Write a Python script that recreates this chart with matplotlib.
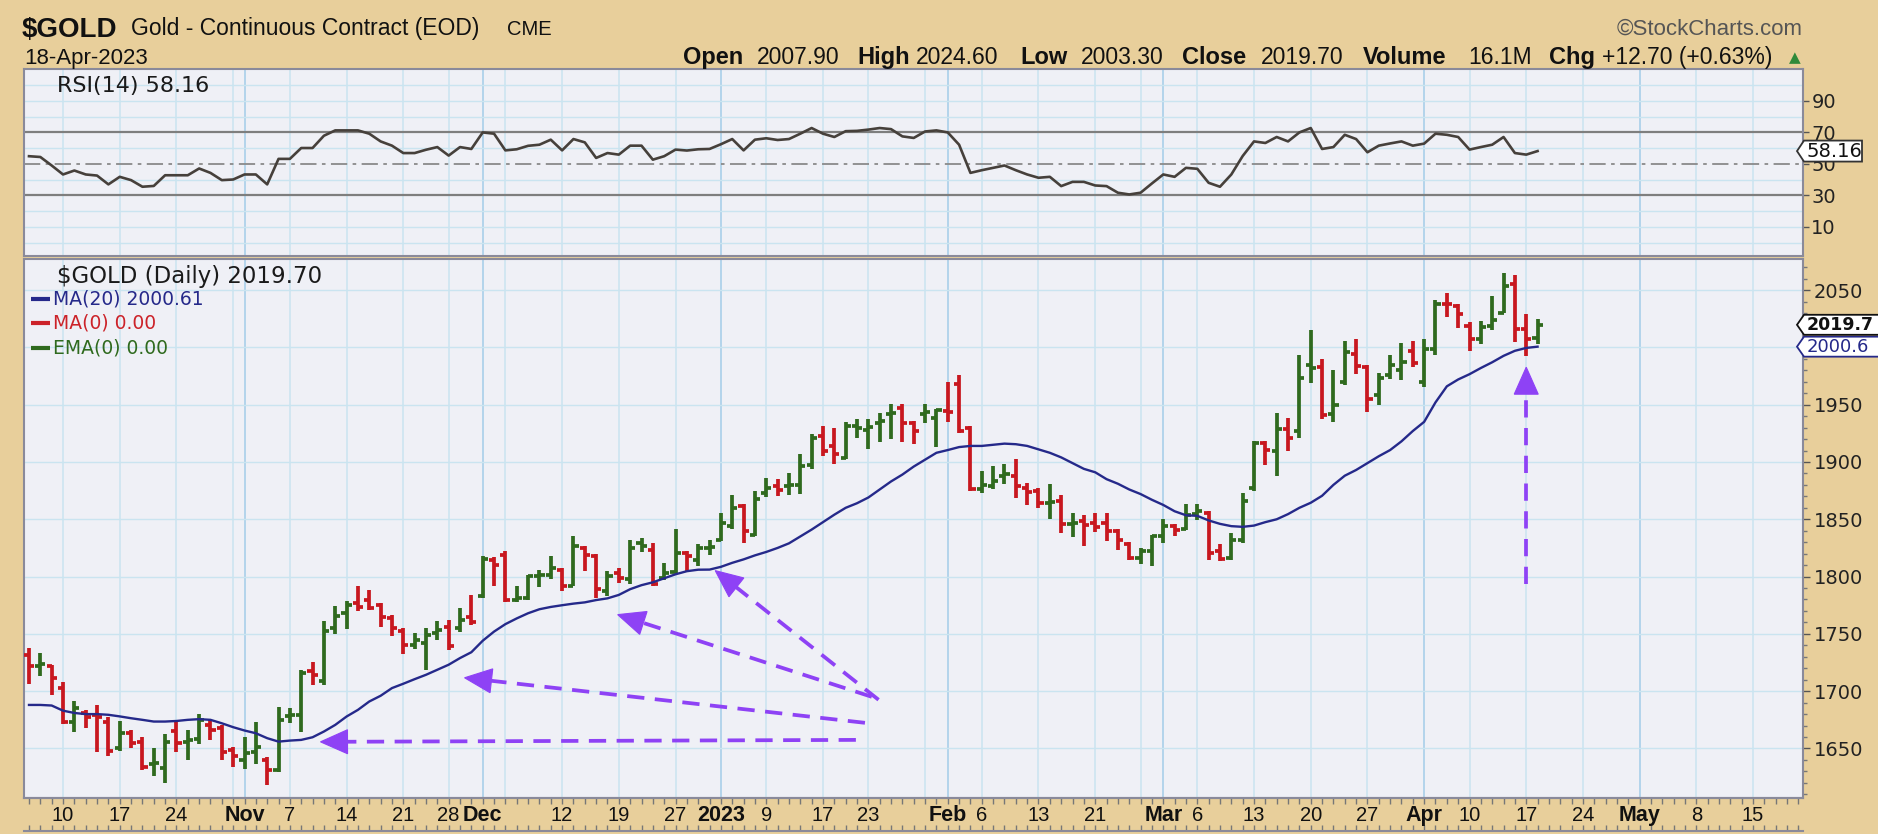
import numpy as np
import pandas as pd
import matplotlib
matplotlib.use("Agg")
import matplotlib.pyplot as plt
from matplotlib.patches import Polygon
from matplotlib.transforms import IdentityTransform
from matplotlib.ticker import MultipleLocator, FixedLocator
from matplotlib import font_manager as fm

# ------------------------------------------------------------------ data
symbol = "$GOLD"
description = "Gold - Continuous Contract (EOD)"
exchange = "CME"
last_date = "18-Apr-2023"
quote_labels = ["Open", "High", "Low", "Close", "Volume", "Chg"]
quote_values = ["2007.90", "2024.60", "2003.30", "2019.70", "16.1M", "+12.70 (+0.63%)"]

start_date = "2022-10-05"
end_axis_date = "2023-05-31"
holidays = ["2022-11-24", "2022-12-26", "2023-01-02", "2023-01-16",
            "2023-02-20", "2023-04-07", "2023-05-29"]

opens = [1731.8, 1722.2, 1721.6, 1702.7, 1673.5, 1680.8, 1679.4, 1673.5, 1650.2, 1663.3,
         1656.0, 1636.5, 1633.3, 1665.0, 1656.0, 1658.1, 1670.6, 1667.7, 1648.8, 1640.0,
         1647.3, 1640.0, 1631.3, 1678.5, 1679.4, 1717.2, 1708.5, 1755.1, 1768.2, 1777.0,
         1779.9, 1775.0, 1763.9, 1752.2, 1740.5, 1742.0, 1750.8, 1756.0, 1755.1, 1765.0,
         1782.8, 1814.9, 1819.2, 1779.9, 1781.3, 1800.3, 1801.7, 1806.1, 1792.1, 1825.1,
         1817.8, 1787.2, 1803.2, 1798.0, 1829.4, 1823.6, 1799.0, 1803.8, 1820.7, 1814.9,
         1825.1, 1832.3, 1844.0, 1861.5, 1836.7, 1873.1, 1878.9, 1878.9, 1879.5, 1897.0,
         1922.7, 1913.9, 1903.7, 1931.4, 1928.0, 1934.3, 1941.6, 1947.4, 1934.3, 1941.6,
         1938.7, 1944.5, 1967.8, 1929.9, 1876.1, 1879.0, 1887.7, 1887.7, 1877.5, 1874.6,
         1863.8, 1865.9, 1845.5, 1848.4, 1846.9, 1846.9, 1839.6, 1828.0, 1816.3, 1822.1,
         1835.3, 1844.0, 1841.1, 1854.2, 1855.7, 1822.1, 1816.3, 1832.3, 1877.5, 1916.9,
         1909.6, 1928.5, 1927.0, 1985.0, 1983.0, 1942.0, 1970.0, 1994.1, 1983.3, 1958.2,
         1976.0, 1980.0, 1997.0, 1970.0, 1999.0, 2038.0, 2036.0, 2019.0, 2007.0, 2019.0,
         2030.0, 2055.0, 2016.0, 2007.9]
highs = [1737.6, 1733.3, 1723.1, 1707.6, 1691.6, 1683.7, 1688.1, 1677.9, 1674.1, 1666.2,
         1660.4, 1650.2, 1662.5, 1675.0, 1665.7, 1680.2, 1675.0, 1670.6, 1651.7, 1660.4,
         1672.7, 1642.4, 1686.1, 1685.2, 1718.7, 1725.1, 1761.0, 1774.1, 1778.4, 1792.1,
         1788.6, 1777.0, 1766.8, 1755.1, 1750.8, 1755.1, 1761.0, 1762.4, 1772.6, 1784.3,
         1818.3, 1817.2, 1822.1, 1791.5, 1801.7, 1806.1, 1817.8, 1807.6, 1835.8, 1826.5,
         1820.1, 1804.7, 1807.6, 1831.5, 1833.8, 1829.4, 1811.9, 1841.1, 1822.1, 1828.0,
         1831.5, 1855.6, 1870.8, 1862.9, 1874.6, 1886.2, 1884.8, 1890.0, 1906.6, 1924.1,
         1931.4, 1929.9, 1934.9, 1937.8, 1937.2, 1943.1, 1950.3, 1950.3, 1935.8, 1950.4,
         1946.0, 1969.9, 1976.0, 1931.4, 1892.1, 1896.5, 1897.9, 1902.3, 1881.9, 1877.5,
         1880.4, 1870.8, 1855.1, 1853.3, 1855.1, 1855.1, 1841.1, 1830.0, 1825.1, 1836.7,
         1850.4, 1845.5, 1862.9, 1862.9, 1857.1, 1828.0, 1838.2, 1872.6, 1918.3, 1918.3,
         1943.1, 1938.7, 1993.0, 2015.0, 1990.0, 1980.0, 2005.7, 2007.2, 1984.4, 1978.0,
         1993.2, 2003.7, 2005.7, 2007.2, 2041.7, 2047.5, 2037.8, 2021.7, 2023.2, 2045.0,
         2064.9, 2063.1, 2029.0, 2024.6]
lows = [1706.5, 1712.9, 1696.8, 1671.5, 1664.8, 1667.7, 1647.3, 1643.5, 1648.2, 1650.2,
        1631.3, 1626.0, 1620.2, 1647.3, 1640.0, 1654.0, 1657.5, 1640.0, 1634.2, 1631.9,
        1636.2, 1618.2, 1629.8, 1672.1, 1664.8, 1705.0, 1705.0, 1750.2, 1754.2, 1769.7,
        1771.2, 1756.0, 1748.4, 1732.4, 1736.8, 1718.7, 1744.9, 1736.2, 1751.3, 1758.0,
        1781.3, 1791.5, 1777.6, 1777.6, 1779.9, 1790.9, 1798.0, 1787.2, 1791.5, 1804.7,
        1781.3, 1783.4, 1794.5, 1793.9, 1821.3, 1791.5, 1797.4, 1803.2, 1803.8, 1809.6,
        1819.2, 1830.9, 1841.1, 1828.9, 1835.2, 1869.6, 1870.2, 1870.8, 1871.7, 1894.1,
        1905.2, 1897.9, 1902.3, 1921.2, 1911.6, 1917.4, 1919.8, 1917.4, 1915.4, 1934.3,
        1913.4, 1934.9, 1925.6, 1874.6, 1872.6, 1876.1, 1880.4, 1868.8, 1862.4, 1860.0,
        1850.4, 1838.2, 1834.7, 1826.5, 1838.8, 1830.9, 1823.0, 1814.9, 1811.4, 1809.0,
        1829.4, 1835.3, 1840.5, 1849.8, 1814.9, 1813.4, 1814.9, 1829.4, 1874.6, 1897.0,
        1887.7, 1909.6, 1921.2, 1969.3, 1937.3, 1935.2, 1966.9, 1976.6, 1943.6, 1949.5,
        1972.0, 1971.6, 1983.3, 1965.8, 1993.2, 2026.1, 2016.5, 1997.0, 2002.8, 2015.3,
        2029.9, 2004.8, 1992.6, 2003.3]
closes = [1722.2, 1724.0, 1711.4, 1673.5, 1685.2, 1677.9, 1677.3, 1648.2, 1663.3, 1655.2,
          1634.2, 1637.1, 1656.0, 1654.5, 1657.5, 1675.0, 1666.2, 1647.3, 1643.5, 1645.9,
          1651.1, 1631.3, 1675.0, 1679.4, 1715.8, 1714.3, 1752.2, 1765.9, 1775.5, 1773.5,
          1772.5, 1764.7, 1755.1, 1740.5, 1744.9, 1749.3, 1753.1, 1739.7, 1762.4, 1760.1,
          1815.0, 1810.0, 1779.9, 1781.3, 1800.3, 1801.7, 1807.6, 1792.1, 1827.1, 1819.2,
          1789.2, 1800.3, 1798.8, 1825.0, 1826.5, 1793.9, 1803.2, 1820.7, 1817.8, 1825.1,
          1826.0, 1846.9, 1860.0, 1839.6, 1867.9, 1877.5, 1875.5, 1879.5, 1896.4, 1921.2,
          1909.6, 1906.6, 1931.4, 1929.9, 1930.5, 1935.8, 1943.1, 1934.3, 1927.0, 1943.7,
          1945.4, 1943.7, 1927.0, 1876.1, 1879.6, 1883.3, 1889.2, 1879.0, 1873.7, 1864.4,
          1865.5, 1845.5, 1846.9, 1845.0, 1843.5, 1840.0, 1832.3, 1816.3, 1822.1, 1835.3,
          1844.0, 1840.5, 1853.3, 1857.1, 1820.7, 1815.4, 1832.3, 1865.9, 1916.9, 1910.4,
          1928.5, 1921.2, 1973.5, 1982.1, 1941.0, 1949.6, 1995.9, 1983.8, 1954.7, 1973.7,
          1984.4, 1987.0, 1986.0, 1999.0, 2038.0, 2037.8, 2029.0, 2007.2, 2018.0, 2024.0,
          2053.8, 2015.9, 2007.0, 2019.7]
# bar colouring as drawn on the chart: g = up (green), r = down (red)
bar_dir = ("rgrrgrrrgr" "rggrggrrrg" "grgggrgggr" "rrrrgggrgr" "grrggggrgr"
           "rgrggrggrg" "gggrggrggg" "rrgggggrrg" "grrrgggrrr" "grgrrrrrgg"
           "grggrrgggr" "grggrggrrg" "ggrggrrrgg" "grrg")
ma20 = [1688, 1688, 1687.5, 1683, 1681, 1680, 1680, 1679.4, 1678, 1676.4,
        1675, 1673.5, 1673.5, 1674, 1675, 1675.6, 1675, 1672, 1668.6, 1665.7,
        1663.3, 1659, 1656, 1656.9, 1657.5, 1659.8, 1664.8, 1670.6, 1677.9, 1683.7,
        1691, 1696, 1702.7, 1706.5, 1710.5, 1714.3, 1718.7, 1723.1, 1728.9, 1734,
        1744, 1752, 1758.5, 1763.5, 1768, 1771.5, 1773.5, 1775, 1776.4, 1777.5,
        1779.5, 1781, 1784, 1789, 1792.5, 1795, 1798.5, 1802, 1804.7, 1806,
        1806.1, 1808.5, 1812, 1815, 1818.5, 1821.5, 1825, 1829, 1835, 1841,
        1847.5, 1854, 1860, 1864, 1869, 1876, 1883, 1889, 1896, 1902,
        1908, 1910.4, 1913, 1914, 1914, 1915, 1916, 1915.5, 1914, 1911,
        1908, 1904, 1899, 1894, 1891, 1885, 1881, 1876, 1872, 1867,
        1862.5, 1857, 1853.5, 1853, 1849, 1846, 1844, 1843.4, 1844.5, 1847.5,
        1850, 1854.5, 1860, 1864.4, 1870.5, 1880, 1888, 1893, 1899, 1905,
        1910.4, 1918, 1927, 1935, 1952, 1966, 1972, 1976.6, 1982, 1987,
        1992.6, 1997, 1999.5, 2000.61]
rsi14 = [54.9, 54.4, 49.0, 43.3, 45.8, 43.3, 42.6, 37.0, 41.8, 39.7,
         35.5, 36.0, 42.8, 42.8, 42.8, 47.1, 44.3, 39.7, 40.1, 43.3,
         43.3, 37.0, 53.2, 53.2, 60.1, 60.1, 67.9, 71.3, 71.3, 71.3,
         69.2, 64.3, 61.6, 56.9, 56.9, 59.0, 60.7, 55.3, 60.7, 59.5,
         70.0, 69.2, 58.6, 59.3, 61.5, 62.2, 65.4, 58.6, 65.8, 63.7,
         53.8, 56.9, 55.9, 61.6, 61.6, 52.7, 54.9, 59.1, 58.5, 59.3,
         59.5, 62.5, 65.8, 58.6, 65.4, 66.3, 65.2, 65.8, 69.2, 72.8,
         69.2, 67.1, 70.8, 71.0, 71.8, 72.8, 72.1, 67.5, 66.5, 70.6,
         71.3, 70.0, 62.2, 44.3, 46.0, 47.5, 49.0, 46.0, 43.3, 41.2,
         41.8, 35.9, 38.6, 38.6, 36.3, 35.9, 31.7, 30.6, 31.7, 37.6,
         43.3, 41.8, 47.5, 46.9, 38.0, 35.5, 43.3, 55.0, 64.3, 63.3,
         67.1, 64.3, 70.0, 72.8, 59.5, 60.7, 68.5, 65.8, 57.4, 61.6,
         63.0, 64.3, 61.6, 62.9, 69.2, 68.5, 67.1, 59.1, 60.7, 62.2,
         67.1, 56.9, 55.9, 58.16]

tick_dates = ["2022-10-10", "2022-10-17", "2022-10-24", "2022-11-01", "2022-11-07",
              "2022-11-14", "2022-11-21", "2022-11-28", "2022-12-01", "2022-12-12",
              "2022-12-19", "2022-12-27", "2023-01-03", "2023-01-09", "2023-01-17",
              "2023-01-23", "2023-02-01", "2023-02-06", "2023-02-13", "2023-02-21",
              "2023-03-01", "2023-03-06", "2023-03-13", "2023-03-20", "2023-03-27",
              "2023-04-03", "2023-04-10", "2023-04-17", "2023-04-24", "2023-05-01",
              "2023-05-08", "2023-05-15"]
tick_labels = ["10", "17", "24", "Nov", "7", "14", "21", "28", "Dec", "12", "19", "27",
               "2023", "9", "17", "23", "Feb", "6", "13", "21", "Mar", "6", "13", "20",
               "27", "Apr", "10", "17", "24", "May", "8", "15"]
price_ticks = [1650, 1700, 1750, 1800, 1850, 1900, 1950, 2000, 2050]
price_tick_labels = ["1650", "1700", "1750", "1800", "1850", "1900", "1950", "", "2050"]
rsi_ticks = [10, 30, 50, 70, 90]

n = len(closes)
assert len(opens) == len(highs) == len(lows) == n == len(bar_dir) == len(ma20) == len(rsi14)

# ------------------------------------------------------------------ style
TAN = "#E8CF9B"
PANEL = "#EFF0F6"
GRID = "#CAE4F0"
GRID_M = "#AED2EA"
BORDER = "#8A8A9A"
UP = "#2F6A1E"
DOWN = "#C8171F"
NAVY = "#25298A"
PURPLE = "#8E42F5"

names = {f.name for f in fm.fontManager.ttflist}
SANS = "Liberation Sans" if "Liberation Sans" in names else "DejaVu Sans"
NARROW = "Liberation Sans Narrow" if "Liberation Sans Narrow" in names else SANS
UI = "DejaVu Sans"

W, H = 1878, 834
fig = plt.figure(figsize=(W / 100, H / 100), dpi=100, facecolor=TAN)


def frect(l, t, r, b):
    return [l / W, 1 - b / H, (r - l) / W, (b - t) / H]


def fpt(x, y):
    return x / W, 1 - y / H


ax_r = fig.add_axes(frect(24, 69, 1803, 256))
ax = fig.add_axes(frect(24, 259, 1803, 798))
ax_b = fig.add_axes(frect(24, 798, 1803, 831))

cal = pd.bdate_range(start=start_date, end=end_axis_date, freq="C", holidays=holidays)
x = np.arange(n)
XL = (-0.44, 156.4)

# week / month start grid positions
week_starts, month_starts = [], []
for k in range(1, len(cal)):
    if cal[k].isocalendar()[1] != cal[k - 1].isocalendar()[1]:
        week_starts.append(k)
    if cal[k].month != cal[k - 1].month:
        month_starts.append(k)

for a in (ax_r, ax):
    a.set_facecolor(PANEL)
    a.set_xlim(*XL)
    for s in a.spines.values():
        s.set_color(BORDER)
        s.set_linewidth(1.5)
    for k in week_starts:
        if XL[0] < k < XL[1] and k not in month_starts:
            a.axvline(k, color=GRID, lw=1.1, zorder=0)
    for k in month_starts:
        if XL[0] < k < XL[1]:
            a.axvline(k, color=GRID_M, lw=1.3, zorder=0)
    a.tick_params(axis="x", which="both", bottom=False, top=False, labelbottom=False)

# ------------------------------------------------------------------ RSI panel
ax_r.set_ylim(-8.5, 110.3)
for v in range(0, 101, 10):
    if v not in (30, 50, 70):
        ax_r.axhline(v, color=GRID, lw=1.0, zorder=0)
ax_r.axhline(70, color="#7E7E7E", lw=1.6, zorder=1)
ax_r.axhline(30, color="#7E7E7E", lw=1.6, zorder=1)
ax_r.axhline(50, color="#8A8A8A", lw=1.3, ls=(0, (9, 3, 2, 3)), zorder=1)
ax_r.plot(x, rsi14, color="#46403B", lw=1.9, zorder=3)
ax_r.yaxis.tick_right()
ax_r.set_yticks(rsi_ticks)
ax_r.set_yticklabels([str(v) for v in rsi_ticks])
ax_r.tick_params(axis="y", length=4, width=1, color="#555555", pad=2,
                 labelsize=14, labelcolor="#222222")
for lab in ax_r.get_yticklabels():
    lab.set_family(UI)
ax_r.text((57 - 24) / 1779, 1 - (86 - 69) / 187, f"RSI(14) {rsi14[-1]:.2f}",
          transform=ax_r.transAxes, fontsize=16, color="#1a1a1a", va="center",
          ha="left", family=UI)

# ------------------------------------------------------------------ price panel
ax.set_ylim(1606.8, 2077.1)
for v in price_ticks:
    ax.axhline(v, color=GRID, lw=1.0, zorder=0)

cols = [UP if c == "g" else DOWN for c in bar_dir]
lw_bar = 2.7
vl = ax.vlines(x, lows, highs, colors=cols, lw=lw_bar, zorder=3)
ol = ax.hlines(opens, x - 0.45, x, colors=cols, lw=lw_bar, zorder=3)
cl = ax.hlines(closes, x, x + 0.45, colors=cols, lw=lw_bar, zorder=3)
for lc in (vl, ol, cl):
    lc.set_capstyle("butt")
ax.plot(x, ma20, color=NAVY, lw=1.7, zorder=4)

ax.yaxis.tick_right()
ax.set_yticks(price_ticks)
ax.set_yticklabels(price_tick_labels)
ax.yaxis.set_minor_locator(MultipleLocator(10))
ax.tick_params(axis="y", which="major", length=5, width=1, color="#555555", pad=3,
               labelsize=14, labelcolor="#222222")
ax.tick_params(axis="y", which="minor", length=3, width=1, color="#777777")
for lab in ax.get_yticklabels():
    lab.set_family(UI)

# legend block
ax.text((57 - 24) / 1779, 1 - (276 - 259) / 539, f"{symbol} (Daily) {closes[-1]:.2f}",
        transform=ax.transAxes, fontsize=16.5, color="#1a1a1a", va="center", ha="left",
        family=UI)
legend_rows = [(f"MA(20) {ma20[-1]:.2f}", NAVY, 299), ("MA(0) 0.00", "#CC2229", 323),
               ("EMA(0) 0.00", UP, 348)]
for txt, c, yy in legend_rows:
    ya = 1 - (yy - 259) / 539
    ax.plot([(31 - 24) / 1779, (50 - 24) / 1779], [ya, ya], transform=ax.transAxes,
            color=c, lw=3, solid_capstyle="butt", zorder=6)
    ax.text((53 - 24) / 1779, ya, txt, transform=ax.transAxes, fontsize=13.5, color=c,
            va="center", ha="left", family=UI)

# purple annotation arrows (tail -> tip, in bar-position / price units)
arrows = [((72.9, 1657.5), (25.7, 1655.8)),
          ((73.7, 1672.4), (38.4, 1711.7)),
          ((74.3, 1695.1), (51.9, 1766.8)),
          ((74.9, 1692.5), (60.5, 1805.2)),
          ((132.0, 1793.9), (132.0, 1982.7))]
to_data = ax.transData.inverted()
HEAD_L, HEAD_W = 27.0, 24.0  # pixels
for tail, tip in arrows:
    pt = ax.transData.transform(tail)
    pp = ax.transData.transform(tip)
    u = (pp - pt) / np.hypot(*(pp - pt))
    perp = np.array([-u[1], u[0]])
    base = pp - u * HEAD_L
    shaft_end = to_data.transform(base + u * 2)
    ax.plot([tail[0], shaft_end[0]], [tail[1], shaft_end[1]], color=PURPLE, lw=2.7,
            ls=(0, (4.6, 2.8)), solid_capstyle="butt", dash_capstyle="butt", zorder=7)
    head = to_data.transform(np.array([pp, base + perp * HEAD_W / 2,
                                       base - perp * HEAD_W / 2]))
    ax.add_patch(Polygon(head, closed=True, fc=PURPLE, ec=PURPLE, lw=0.8, zorder=7))

# ------------------------------------------------------------------ date band
ax_b.set_facecolor("none")
ax_b.set_xlim(*XL)
ax_b.set_ylim(0, 1)
for side in ("left", "right"):
    ax_b.spines[side].set_visible(False)
for side in ("top", "bottom"):
    ax_b.spines[side].set_color(BORDER)
    ax_b.spines[side].set_linewidth(1.5)
ax_b.set_yticks([])
ax_b.xaxis.set_major_locator(FixedLocator([]))
ax_b.xaxis.set_minor_locator(FixedLocator(np.arange(0, len(cal))))
ax_b.tick_params(axis="x", which="minor", direction="in", length=4, width=1,
                 color="#777777", top=True, bottom=True)
ax_b.tick_params(axis="x", which="major", labelbottom=False)
bold_labels = {"Nov", "Dec", "2023", "Feb", "Mar", "Apr", "May"}
for d, lab in zip(tick_dates, tick_labels):
    k = cal.get_loc(pd.Timestamp(d))
    ax_b.text(k, 0.47, lab, ha="center", va="center",
              fontsize=15.5 if lab in bold_labels else 14.5,
              fontweight="bold" if lab in bold_labels else "normal", family=NARROW,
              color="#111111")

# ------------------------------------------------------------------ header
fig.text(*fpt(22, 37), symbol, fontsize=20, fontweight="bold", family=SANS,
         color="#111111", va="baseline", ha="left")
fig.text(*fpt(131, 35), description, fontsize=16.5, family=SANS, color="#111111",
         va="baseline", ha="left")
fig.text(*fpt(507, 35), exchange, fontsize=14.5, family=SANS, color="#111111",
         va="baseline", ha="left")
fig.text(*fpt(1803, 35), "\u00A9StockCharts.com", fontsize=16, family=SANS,
         color="#555555", va="baseline", ha="right")
fig.text(*fpt(24, 64), last_date, fontsize=16, family=SANS, color="#111111",
         va="baseline", ha="left")
label_x = [683, 857, 1020, 1182, 1363, 1549]
value_x = [757, 916, 1081, 1261, 1468, 1602]
for lab, val, lx, vx in zip(quote_labels, quote_values, label_x, value_x):
    fig.text(*fpt(lx, 64), lab, fontsize=17, fontweight="bold", family=SANS,
             color="#111111", va="baseline", ha="left")
    fig.text(*fpt(vx, 64), val, fontsize=16.5, family=SANS, color="#111111",
             va="baseline", ha="left")
fig.text(*fpt(1789, 62), "\u25B2", fontsize=11, family=UI, color="#2F8A3A",
         va="baseline", ha="left")


# ------------------------------------------------------------------ value tags
def tag(a, yval, text, ec, tc, weight, fs=14, h=20, x_end=1900):
    yd = a.transData.transform((0, yval))[1]
    xr = a.transAxes.transform((1, 0))[0]
    x0, x1 = xr - 6, xr + 1
    poly = Polygon([[x0, yd], [x1, yd + h / 2], [x_end, yd + h / 2],
                    [x_end, yd - h / 2], [x1, yd - h / 2]], closed=True,
                   transform=IdentityTransform(), fc="white", ec=ec, lw=1.3, zorder=5)
    fig.add_artist(poly)
    fig.text(x1 + 3, yd, text, transform=IdentityTransform(), fontsize=fs,
             fontweight=weight, color=tc, va="center", ha="left", family=UI, zorder=6)


tag(ax, ma20[-1], f"{ma20[-1]:.1f}", NAVY, NAVY, "normal", fs=13)
tag(ax, closes[-1], f"{closes[-1]:.1f}", "#111111", "#111111", "bold", fs=12.5)
tag(ax_r, rsi14[-1], f"{rsi14[-1]:.2f}", "#333333", "#111111", "normal", h=21, x_end=1862)

fig.savefig("out.png", dpi=100, facecolor=TAN)
